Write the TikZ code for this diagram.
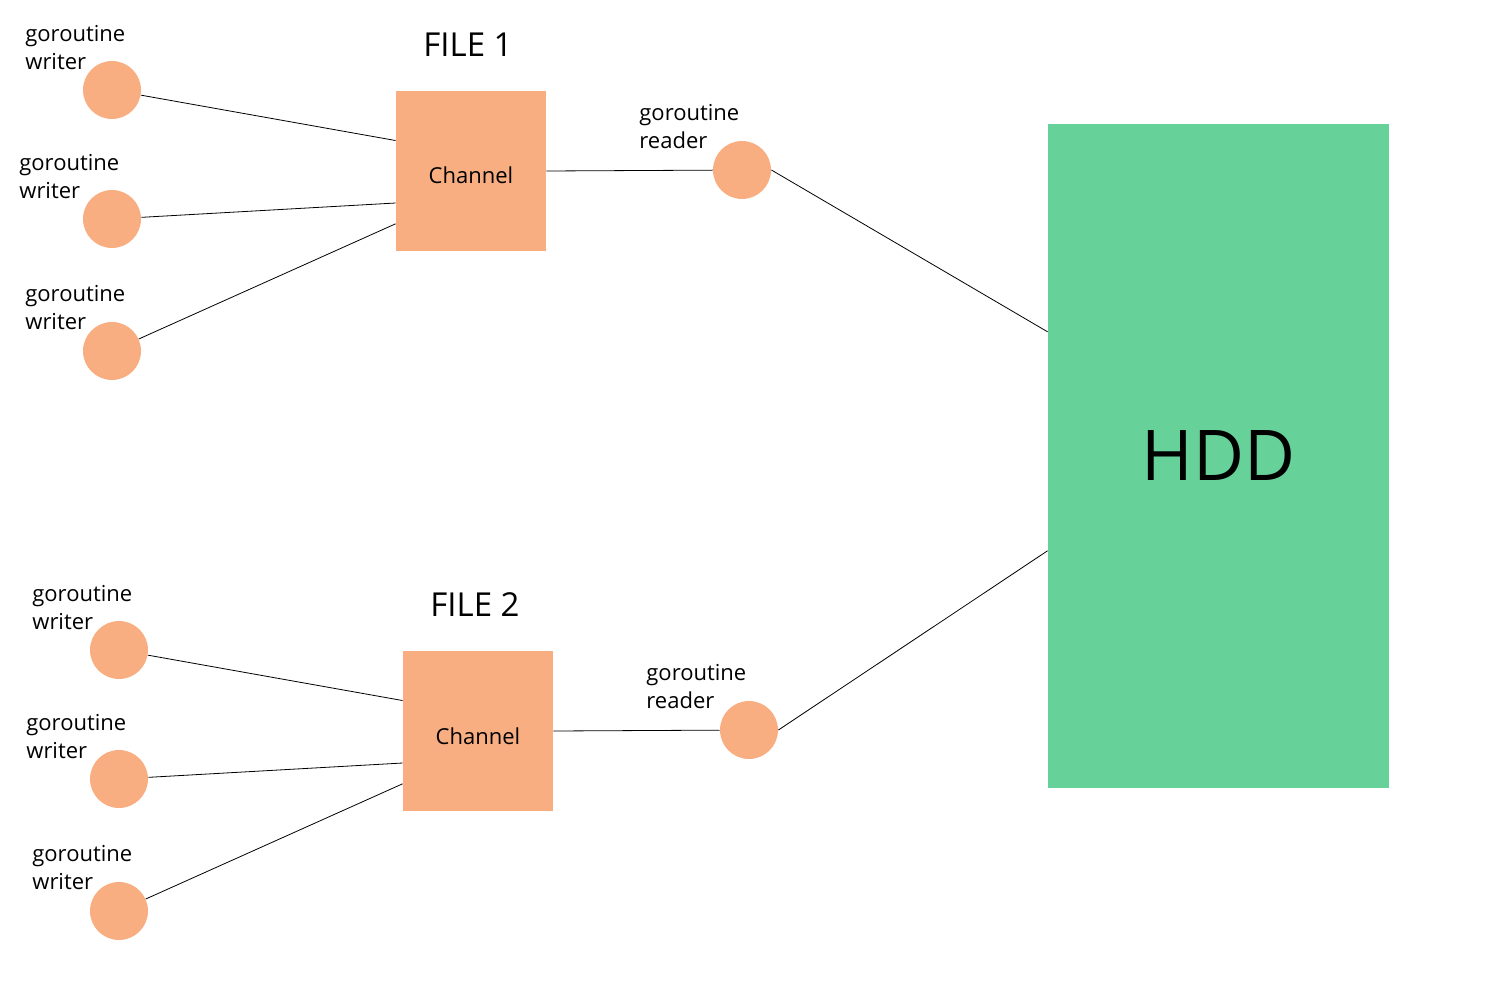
\documentclass[tikz,border=0pt]{standalone}
\usepackage{fontspec}
\setmainfont{Open Sans}
\usetikzlibrary{positioning}
\definecolor{peach}{HTML}{F9AE82}
\definecolor{mint}{HTML}{67D19A}

\begin{document}
\begin{tikzpicture}[x=1pt, y=-1pt, line width=0.8pt,
    gor/.style={circle, fill=peach, minimum size=58pt, inner sep=0pt},
    chan/.style={rectangle, fill=peach, minimum width=150pt, minimum height=160pt,
        text height=26pt, text depth=0pt, font=\fontsize{22}{28}\selectfont},
    disk/.style={rectangle, fill=mint, minimum width=341pt, minimum height=664pt,
        font=\fontsize{70}{84}\selectfont},
    lbl/.style={anchor=west, align=left, inner sep=0pt, font=\fontsize{22}{28}\selectfont},
    title/.style={font=\fontsize{33}{38}\selectfont}]
    \useasboundingbox (0,0) rectangle (1500,1000);

    % FILE 1
    \node[title] (f_1) at (468,45) {FILE 1};
    \node[chan] (ch_1) at (471,171) {Channel};
    \node[gor] (w_1) at (112,90) {};
    \node[gor] (w_2) at (112,219) {};
    \node[gor] (w_3) at (112,351) {};
    \node[gor] (r_1) at (742,170) {};
    \node[lbl] (lw_1) at (25,48) {goroutine\\writer};
    \node[lbl] (lw_2) at (19,177) {goroutine\\writer};
    \node[lbl] (lw_3) at (25,308) {goroutine\\writer};
    \node[lbl] (lr_1) at (639,127) {goroutine\\reader};

    % FILE 2
    \node[title] (f_2) at (475,605) {FILE 2};
    \node[chan] (ch_2) at (478,731) {Channel};
    \node[gor] (w_4) at (119,650) {};
    \node[gor] (w_5) at (119,779) {};
    \node[gor] (w_6) at (119,911) {};
    \node[gor] (r_2) at (749,730) {};
    \node[lbl] (lw_4) at (32,608) {goroutine\\writer};
    \node[lbl] (lw_5) at (26,737) {goroutine\\writer};
    \node[lbl] (lw_6) at (32,868) {goroutine\\writer};
    \node[lbl] (lr_2) at (646,687) {goroutine\\reader};

    \node[disk] (hdd) at (1218.5,456) {HDD};

    \draw (w_1) -- (ch_1.158)
          (w_2) -- (ch_1.203)
          (w_3) -- (ch_1.215)
          (ch_1.east) -- (r_1)
          (r_1.east) -- (hdd.144);
    \draw (w_4) -- (ch_2.158)
          (w_5) -- (ch_2.203)
          (w_6) -- (ch_2.215)
          (ch_2.east) -- (r_2)
          (r_2.east) -- (hdd.209);
\end{tikzpicture}
\end{document}
